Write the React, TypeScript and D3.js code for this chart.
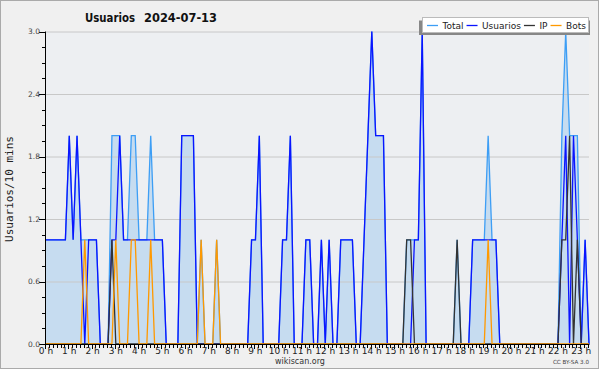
import React, { useRef, useEffect } from 'react';
import * as d3 from 'd3';

// one value every 10 minutes, 00:00 .. 23:20
const total = [
  1, 1, 1, 1, 1, 1, 2, 1, 2, 1, 1, 1,
  1, 1, 0, 0, 0, 2, 2, 2, 1, 1, 2, 2,
  1, 1, 1, 2, 1, 1, 1, 0, 0, 0, 0, 2,
  2, 2, 2, 0, 1, 0, 0, 0, 1, 0, 0, 0,
  0, 0, 0, 0, 0, 1, 1, 2, 0, 0, 0, 0,
  0, 1, 1, 2, 0, 0, 0, 1, 1, 0, 0, 1,
  0, 1, 0, 0, 1, 1, 1, 1, 0, 0, 1, 2,
  3, 2, 2, 2, 0, 0, 0, 0, 0, 1, 1, 1,
  1, 3, 0, 0, 0, 0, 0, 0, 0, 0, 1, 0,
  0, 0, 1, 1, 1, 1, 2, 1, 1, 0, 0, 0,
  0, 0, 0, 0, 0, 0, 0, 0, 0, 0, 0, 0,
  0, 2, 3, 2, 2, 2, 0, 1, 0,
];
const usuarios = [
  1, 1, 1, 1, 1, 1, 2, 1, 2, 1, 0, 1,
  1, 1, 0, 0, 0, 1, 1, 2, 1, 1, 1, 1,
  1, 1, 1, 1, 1, 1, 1, 0, 0, 0, 0, 2,
  2, 2, 2, 0, 0, 0, 0, 0, 0, 0, 0, 0,
  0, 0, 0, 0, 0, 1, 1, 2, 0, 0, 0, 0,
  0, 1, 1, 2, 0, 0, 0, 1, 1, 0, 0, 1,
  0, 1, 0, 0, 1, 1, 1, 1, 0, 0, 1, 2,
  3, 2, 2, 2, 0, 0, 0, 0, 0, 0, 0, 1,
  1, 3, 0, 0, 0, 0, 0, 0, 0, 0, 0, 0,
  0, 0, 1, 1, 1, 1, 1, 1, 1, 0, 0, 0,
  0, 0, 0, 0, 0, 0, 0, 0, 0, 0, 0, 0,
  0, 1, 2, 0, 2, 1, 0, 1, 0,
];
const ip = [
  0, 0, 0, 0, 0, 0, 0, 0, 0, 0, 0, 0,
  0, 0, 0, 0, 0, 1, 0, 0, 0, 0, 0, 0,
  0, 0, 0, 0, 0, 0, 0, 0, 0, 0, 0, 0,
  0, 0, 0, 0, 0, 0, 0, 0, 0, 0, 0, 0,
  0, 0, 0, 0, 0, 0, 0, 0, 0, 0, 0, 0,
  0, 0, 0, 0, 0, 0, 0, 0, 0, 0, 0, 0,
  0, 0, 0, 0, 0, 0, 0, 0, 0, 0, 0, 0,
  0, 0, 0, 0, 0, 0, 0, 0, 0, 1, 1, 0,
  0, 0, 0, 0, 0, 0, 0, 0, 0, 0, 1, 0,
  0, 0, 0, 0, 0, 0, 0, 0, 0, 0, 0, 0,
  0, 0, 0, 0, 0, 0, 0, 0, 0, 0, 0, 0,
  0, 1, 1, 2, 0, 1, 0, 0, 0,
];
const bots = [
  0, 0, 0, 0, 0, 0, 0, 0, 0, 0, 1, 0,
  0, 0, 0, 0, 0, 0, 1, 0, 0, 0, 1, 1,
  0, 0, 0, 1, 0, 0, 0, 0, 0, 0, 0, 0,
  0, 0, 0, 0, 1, 0, 0, 0, 1, 0, 0, 0,
  0, 0, 0, 0, 0, 0, 0, 0, 0, 0, 0, 0,
  0, 0, 0, 0, 0, 0, 0, 0, 0, 0, 0, 0,
  0, 0, 0, 0, 0, 0, 0, 0, 0, 0, 0, 0,
  0, 0, 0, 0, 0, 0, 0, 0, 0, 0, 0, 0,
  0, 0, 0, 0, 0, 0, 0, 0, 0, 0, 0, 0,
  0, 0, 0, 0, 0, 0, 1, 0, 0, 0, 0, 0,
  0, 0, 0, 0, 0, 0, 0, 0, 0, 0, 0, 0,
  0, 0, 0, 0, 0, 0, 0, 0, 0,
];

const hourLabels = [
  '0 h', '1 h', '2 h', '3 h', '4 h', '5 h', '6 h', '7 h', '8 h', '9 h', '10 h', '11 h',
  '12 h', '13 h', '14 h', '15 h', '16 h', '17 h', '18 h', '19 h', '20 h', '21 h', '22 h', '23 h',
];
const yTicks = [0, 0.6, 1.2, 1.8, 2.4, 3.0];
const seriesNames = ['Total', 'Usuarios', 'IP', 'Bots'];
const seriesColors = ['#3d9ef5', '#0a14ff', '#333333', '#ff9900'];

const FONT = 'DejaVu Sans, sans-serif';

const App: React.FC = () => {
  const svgRef = useRef<SVGSVGElement>(null);

  useEffect(() => {
    if (!svgRef.current) return;
    const svg = d3.select(svgRef.current);
    svg.selectAll('*').remove();

    const width = 600;
    const height = 370;
    const plot = { left: 46, right: 589, top: 31.5, bottom: 344 };

    const x = d3.scaleLinear().domain([0, total.length - 1]).range([plot.left, plot.right]);
    const y = d3.scaleLinear().domain([0, 3]).range([plot.bottom, plot.top]);

    // Background + frame
    svg.append('rect')
      .attr('x', 0.5).attr('y', 0.5)
      .attr('width', width - 2).attr('height', height - 2)
      .attr('fill', '#f0f0f0')
      .attr('stroke', '#aaaaaa');

    svg.append('rect')
      .attr('x', plot.left).attr('y', plot.top)
      .attr('width', plot.right - plot.left).attr('height', plot.bottom - plot.top)
      .attr('fill', '#edeff2');

    // Area under Total
    const area = d3.area<number>()
      .x((d, i) => x(i))
      .y0(y(0))
      .y1(d => y(d));
    svg.append('path')
      .datum(total)
      .attr('d', area as any)
      .attr('fill', '#c6dcf0');

    // Grid lines
    svg.append('g')
      .selectAll('line')
      .data(yTicks.filter(t => t > 0))
      .enter()
      .append('line')
      .attr('x1', plot.left).attr('x2', plot.right)
      .attr('y1', d => y(d) + 0.5).attr('y2', d => y(d) + 0.5)
      .attr('stroke', '#c8c8c8')
      .attr('stroke-width', 1);

    // Series lines
    const line = d3.line<number>()
      .x((d, i) => x(i))
      .y(d => y(d));
    [total, usuarios, ip, bots].forEach((s, k) => {
      svg.append('path')
        .datum(s)
        .attr('d', line as any)
        .attr('fill', 'none')
        .attr('stroke', seriesColors[k])
        .attr('stroke-width', 1.3)
        .attr('stroke-linejoin', 'miter');
    });

    // Y axis
    const yAxis = svg.append('g');
    yAxis.append('line')
      .attr('x1', plot.left - 0.5).attr('x2', plot.left - 0.5)
      .attr('y1', plot.top).attr('y2', plot.bottom + 0.5)
      .attr('stroke', '#000');
    yAxis.selectAll('line.minor')
      .data(d3.range(0, 3.001, 0.15))
      .enter()
      .append('line')
      .attr('class', 'minor')
      .attr('x1', plot.left - 4).attr('x2', plot.left)
      .attr('y1', d => Math.round(y(d)) + 0.5).attr('y2', d => Math.round(y(d)) + 0.5)
      .attr('stroke', '#000');
    yAxis.selectAll('line.major')
      .data(yTicks)
      .enter()
      .append('line')
      .attr('class', 'major')
      .attr('x1', plot.left - 7).attr('x2', plot.left)
      .attr('y1', d => Math.round(y(d)) + 0.5).attr('y2', d => Math.round(y(d)) + 0.5)
      .attr('stroke', '#000');
    yAxis.selectAll('text')
      .data(yTicks)
      .enter()
      .append('text')
      .attr('x', plot.left - 6)
      .attr('y', d => y(d) + 2.5)
      .attr('text-anchor', 'end')
      .attr('font-family', FONT)
      .attr('font-size', '7.5px')
      .attr('fill', '#444')
      .text(d => d.toFixed(1));

    // X axis
    const xAxis = svg.append('g');
    xAxis.append('line')
      .attr('x1', plot.left - 0.5).attr('x2', plot.right + 0.5)
      .attr('y1', plot.bottom + 0.5).attr('y2', plot.bottom + 0.5)
      .attr('stroke', '#000');
    xAxis.selectAll('line.tick')
      .data(d3.range(total.length))
      .enter()
      .append('line')
      .attr('class', 'tick')
      .attr('x1', d => Math.round(x(d)) - 0.5).attr('x2', d => Math.round(x(d)) - 0.5)
      .attr('y1', plot.bottom).attr('y2', d => plot.bottom + (d % 6 === 0 ? 5 : 4))
      .attr('stroke', '#000');
    xAxis.selectAll('text')
      .data(hourLabels)
      .enter()
      .append('text')
      .attr('x', (d, i) => x(i * 6))
      .attr('y', 353.5)
      .attr('text-anchor', 'middle')
      .attr('font-family', FONT)
      .attr('font-size', '9px')
      .attr('fill', '#222')
      .text(d => d);

    // Y label
    svg.append('text')
      .attr('transform', 'translate(13, 189) rotate(-90)')
      .attr('text-anchor', 'middle')
      .attr('font-family', 'DejaVu Sans Mono, monospace')
      .attr('font-size', '11px')
      .attr('fill', '#222')
      .text('Usuarios/10 mins');

    // Title
    svg.append('text')
      .attr('x', 85).attr('y', 22)
      .attr('font-family', FONT)
      .attr('font-weight', 'bold')
      .attr('font-size', '12px')
      .attr('textLength', 50)
      .attr('lengthAdjust', 'spacingAndGlyphs')
      .attr('fill', '#111')
      .text('Usuarios');
    svg.append('text')
      .attr('x', 144).attr('y', 22)
      .attr('font-family', FONT)
      .attr('font-weight', 'bold')
      .attr('font-size', '12px')
      .attr('textLength', 73)
      .attr('lengthAdjust', 'spacingAndGlyphs')
      .attr('fill', '#111')
      .text('2024-07-13');

    // Legend
    const legend = svg.append('g');
    legend.append('rect')
      .attr('x', 419).attr('y', 20.5)
      .attr('width', 171).attr('height', 14.5)
      .attr('fill', '#878787');
    legend.append('rect')
      .attr('x', 422.5).attr('y', 17.5)
      .attr('width', 166).attr('height', 15)
      .attr('fill', '#ffffff')
      .attr('stroke', '#bbbbbb');
    let lx = 427;
    seriesNames.forEach((name, k) => {
      legend.append('line')
        .attr('x1', lx).attr('x2', lx + 11)
        .attr('y1', 25.5).attr('y2', 25.5)
        .attr('stroke', seriesColors[k])
        .attr('stroke-width', 1.3);
      const t = legend.append('text')
        .attr('x', lx + 15.5)
        .attr('y', 28.5)
        .attr('font-family', FONT)
        .attr('font-size', '9px')
        .attr('fill', '#222')
        .text(name);
      const w = (t.node() as SVGTextElement).getComputedTextLength();
      lx = lx + 15.5 + w + 3;
    });

    // Footer
    svg.append('text')
      .attr('x', 300).attr('y', 364)
      .attr('text-anchor', 'middle')
      .attr('font-family', FONT)
      .attr('font-size', '8px')
      .attr('fill', '#333')
      .text('wikiscan.org');
    svg.append('text')
      .attr('x', 589).attr('y', 364)
      .attr('text-anchor', 'end')
      .attr('font-family', FONT)
      .attr('font-size', '5.6px')
      .attr('fill', '#444')
      .text('CC BY-SA 3.0');
  }, []);

  return (
    <svg
      ref={svgRef}
      width={600}
      height={370}
      style={{ position: 'absolute', left: 0, top: 0, display: 'block' }}
    />
  );
};

export default App;
